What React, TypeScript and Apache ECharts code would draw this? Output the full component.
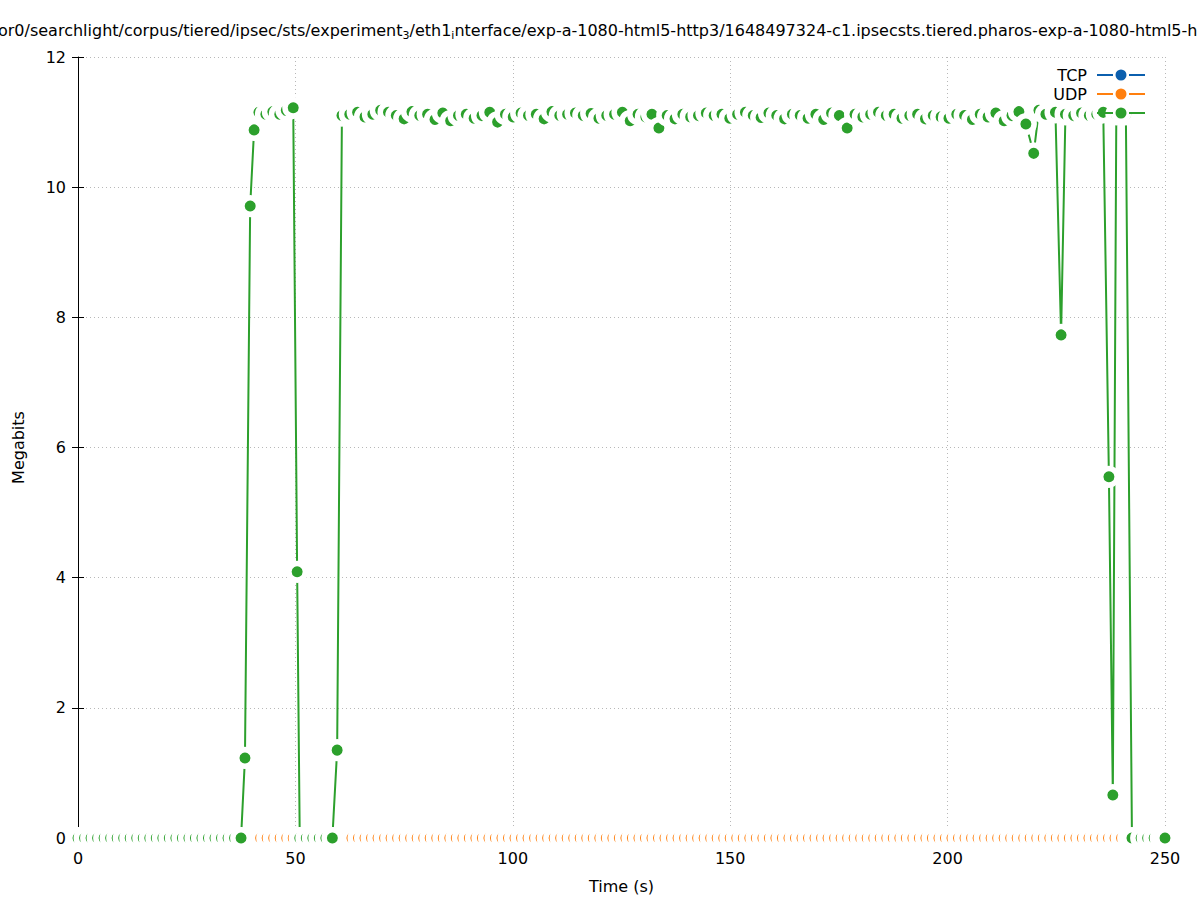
import React, { useEffect, useRef } from 'react';
import * as echarts from 'echarts';

const FONT = '"DejaVu Sans", sans-serif';
const GREEN = '#2ca02c';
const ORANGE = '#ff7f0e';
const BLUE = '#0b5fae';

const xTicks = [0, 50, 100, 150, 200, 250];
const yTicks = [0, 2, 4, 6, 8, 10, 12];

// Third (untitled) series: time (s) and Megabits
const greenTimes = [
  0, 1.5, 3, 4.5, 6, 7.5, 9, 10.5, 12, 13.5, 15, 16.5, 18, 19.5, 21, 22.5,
  24, 25.5, 27, 28.5, 30, 31.5, 33, 34.5, 36, 37.5,
  38.4, 39.6, 40.5, 41.6, 43.2, 44.8, 46.4, 47.9, 49.5, 50.4,
  51, 52.5, 54, 55.5, 57, 58.5, 59.6, 60.7, 62.5,
  64.3, 66.0, 67.8, 69.6, 71.4, 73.2, 75.0, 76.8, 78.6, 80.4,
  82.1, 83.9, 85.7, 87.5, 89.3, 91.1, 92.9, 94.7, 96.5, 98.3,
  100.1, 101.9, 103.6, 105.4, 107.2, 109.0, 110.8, 112.6, 114.4, 116.2,
  118.0, 119.8, 121.6, 123.4, 125.2, 127.0, 128.8, 130.6, 132.0, 133.6,
  135.5, 137.3, 139.1, 140.9, 142.7, 144.5, 146.3, 148.1, 149.9, 151.7,
  153.5, 155.3, 157.1, 158.9, 160.7, 162.5, 164.3, 166.1, 167.9, 169.7,
  171.5, 173.3, 175.1, 176.9, 178.7, 180.5, 182.3, 184.1, 185.9, 187.7,
  189.5, 191.3, 193.1, 194.9, 196.7, 198.5, 200.3, 202.1, 203.9, 205.7,
  207.5, 209.3, 211.1, 213.0, 214.8, 216.4, 218.0, 219.8, 221.0, 222.6,
  224.8, 226.1, 227.1, 229.0, 230.8, 232.6, 234.3, 235.8, 237.1, 238.0,
  238.8, 241.0, 242.4, 244.5, 246, 247.5, 249, 250,
];
const greenValues = [
  0, 0, 0, 0, 0, 0, 0, 0, 0, 0, 0, 0, 0, 0, 0, 0,
  0, 0, 0, 0, 0, 0, 0, 0, 0, 0,
  1.23, 9.71, 10.88, 11.15, 11.12, 11.16, 11.12, 11.18, 11.22, 4.09,
  0, 0, 0, 0, 0, 0, 1.35, 11.10, 11.12,
  11.15, 11.08, 11.12, 11.18, 11.15, 11.10, 11.05, 11.16, 11.10, 11.12,
  11.04, 11.14, 11.02, 11.10, 11.12, 11.06, 11.10, 11.15, 11.00, 11.12,
  11.08, 11.14, 11.10, 11.12, 11.05, 11.16, 11.10, 11.12, 11.14, 11.10,
  11.13, 11.06, 11.10, 11.12, 11.15, 11.02, 11.12, 11.08, 11.12, 10.91,
  11.10, 11.05, 11.12, 11.08, 11.10, 11.14, 11.10, 11.12, 11.06, 11.12,
  11.15, 11.10, 11.07, 11.14, 11.10, 11.05, 11.12, 11.10, 11.06, 11.12,
  11.04, 11.14, 11.10, 10.91, 11.12, 11.08, 11.12, 11.15, 11.10, 11.12,
  11.06, 11.10, 11.12, 11.05, 11.10, 11.08, 11.06, 11.12, 11.10, 11.04,
  11.12, 11.08, 11.14, 11.02, 11.10, 11.16, 10.97, 10.52, 11.18, 11.12,
  11.15, 7.73, 11.12, 11.10, 11.14, 11.10, 11.12, 11.15, 5.55, 0.66,
  11.12, 11.12, 0, 0, 0, 0, 0, 0,
];

// UDP: time (s) and Megabits
const udpTimes = [
  0, 1.5, 3, 4.5, 6, 7.5, 9, 10.5, 12, 13.5, 15, 16.5, 18, 19.5, 21, 22.5, 24, 25.5, 27, 28.5,
  30, 31.5, 33, 34.5, 36, 37.5, 39, 40.5, 42, 43.5, 45, 46.5, 48, 49.5, 51, 52.5, 54, 55.5, 57, 58.5,
  60, 61.5, 63, 64.5, 66, 67.5, 69, 70.5, 72, 73.5, 75, 76.5, 78, 79.5, 81, 82.5, 84, 85.5, 87, 88.5,
  90, 91.5, 93, 94.5, 96, 97.5, 99, 100.5, 102, 103.5, 105, 106.5, 108, 109.5, 111, 112.5, 114, 115.5, 117, 118.5,
  120, 121.5, 123, 124.5, 126, 127.5, 129, 130.5, 132, 133.5, 135, 136.5, 138, 139.5, 141, 142.5, 144, 145.5, 147, 148.5,
  150, 151.5, 153, 154.5, 156, 157.5, 159, 160.5, 162, 163.5, 165, 166.5, 168, 169.5, 171, 172.5, 174, 175.5, 177, 178.5,
  180, 181.5, 183, 184.5, 186, 187.5, 189, 190.5, 192, 193.5, 195, 196.5, 198, 199.5, 201, 202.5, 204, 205.5, 207, 208.5,
  210, 211.5, 213, 214.5, 216, 217.5, 219, 220.5, 222, 223.5, 225, 226.5, 228, 229.5, 231, 232.5, 234, 235.5, 237, 238.5,
  240, 241.5, 243, 244.5, 246, 247.5, 249,
  250,
];
const udpValues = [
  0, 0, 0, 0, 0, 0, 0, 0, 0, 0, 0, 0, 0, 0, 0, 0, 0, 0, 0, 0,
  0, 0, 0, 0, 0, 0, 0, 0, 0, 0, 0, 0, 0, 0, 0, 0, 0, 0, 0, 0,
  0, 0, 0, 0, 0, 0, 0, 0, 0, 0, 0, 0, 0, 0, 0, 0, 0, 0, 0, 0,
  0, 0, 0, 0, 0, 0, 0, 0, 0, 0, 0, 0, 0, 0, 0, 0, 0, 0, 0, 0,
  0, 0, 0, 0, 0, 0, 0, 0, 0, 0, 0, 0, 0, 0, 0, 0, 0, 0, 0, 0,
  0, 0, 0, 0, 0, 0, 0, 0, 0, 0, 0, 0, 0, 0, 0, 0, 0, 0, 0, 0,
  0, 0, 0, 0, 0, 0, 0, 0, 0, 0, 0, 0, 0, 0, 0, 0, 0, 0, 0, 0,
  0, 0, 0, 0, 0, 0, 0, 0, 0, 0, 0, 0, 0, 0, 0, 0, 0, 0, 0, 0,
  0, 0, 0, 0, 0, 0, 0,
  0,
];

// TCP: no visible samples
const tcpTimes: number[] = [];
const tcpValues: number[] = [];

const TITLE =
  'or0/searchlight/corpus/tiered/ipsec/sts/experiment{s|3}/eth1{s|i}nterface/exp-a-1080-html5-http3/1648497324-c1.ipsecsts.tiered.pharos-exp-a-1080-html5-http3';

const LEGEND_ICON =
  'path://M0 6h16v2H0z M32 6h16v2H32z M18.5 7a5.5 5.5 0 1 0 11 0a5.5 5.5 0 1 0 -11 0z';

const pairs = (ts: number[], vs: number[]) => ts.map((t, i) => [t, vs[i]]);

function lineSeries(name: string, color: string, data: number[][]) {
  return {
    name,
    type: 'line',
    z: 3,
    data,
    xAxisIndex: 0,
    yAxisIndex: 0,
    symbol: 'circle',
    symbolSize: 16.5,
    showSymbol: true,
    showAllSymbol: true,
    clip: false,
    silent: true,
    lineStyle: { color, width: 2 },
    itemStyle: { color, borderColor: '#ffffff', borderWidth: 5.5 },
    emphasis: { disabled: true },
  };
}

const LEGEND_RIGHT = 52;
const legendTops = [67, 86, 105];

function legendItem(name: string, top: number) {
  return {
    data: [name],
    orient: 'vertical',
    right: LEGEND_RIGHT,
    top,
    padding: 0,
    align: 'right',
    itemWidth: 48,
    itemHeight: 14,
    icon: LEGEND_ICON,
    selectedMode: false,
    z: 6,
    itemStyle: { borderWidth: 0 },
    textStyle: { fontSize: 16, color: '#000', fontFamily: FONT, padding: [0, 5, 0, 0] },
  };
}

export default function App() {
  const ref = useRef<HTMLDivElement>(null);
  useEffect(() => {
    const chart = echarts.init(ref.current!, null, { renderer: 'svg' });
    const gridLine = { show: true, lineStyle: { color: '#b8b8b8', type: [1, 3], width: 1 } };
    const tick = { show: true, inside: true, length: 6, lineStyle: { color: '#000', width: 1 } };
    const label = { color: '#000', fontSize: 16, fontFamily: FONT, margin: 12 };
    const W = 1197;
    chart.setOption({
      animation: false,
      backgroundColor: '#ffffff',
      textStyle: { fontFamily: FONT },
      title: {
        text: TITLE,
        left: -2,
        top: 19,
        padding: 0,
        textStyle: {
          fontSize: 16,
          fontWeight: 'normal',
          color: '#000',
          fontFamily: FONT,
          lineHeight: 22,
          rich: {
            s: { fontSize: 11, lineHeight: 11, verticalAlign: 'bottom', color: '#000', fontFamily: FONT },
          },
        },
      },
      grid: { left: 78, right: 32, top: 57, bottom: 62 },
      legend: [
        legendItem('TCP', legendTops[0]),
        legendItem('UDP', legendTops[1]),
        legendItem(' ', legendTops[2]),
      ],
      // white backdrop behind each key sample point (as in the original key)
      graphic: {
        elements: legendTops.map((t) => ({
          type: 'circle',
          z: 5,
          shape: { cx: W - LEGEND_RIGHT - 24, cy: t + 7, r: 11 },
          style: { fill: '#ffffff' },
          silent: true,
        })),
      },
      xAxis: [
        {
          type: 'value',
          min: xTicks[0],
          max: xTicks[xTicks.length - 1],
          interval: xTicks[1] - xTicks[0],
          position: 'bottom',
          axisLine: { show: true, onZero: false, lineStyle: { color: '#000', width: 1 } },
          axisTick: tick,
          axisLabel: label,
          splitLine: gridLine,
          name: 'Time (s)',
          nameLocation: 'middle',
          nameGap: 40,
          nameTextStyle: { color: '#000', fontSize: 16, fontFamily: FONT },
        },
        {
          type: 'value',
          min: xTicks[0],
          max: xTicks[xTicks.length - 1],
          interval: xTicks[1] - xTicks[0],
          position: 'top',
          axisLine: { show: false },
          axisTick: tick,
          axisLabel: { show: false },
          splitLine: { show: false },
        },
      ],
      yAxis: [
        {
          type: 'value',
          min: yTicks[0],
          max: yTicks[yTicks.length - 1],
          interval: yTicks[1] - yTicks[0],
          position: 'left',
          axisLine: { show: true, onZero: false, lineStyle: { color: '#000', width: 1 } },
          axisTick: tick,
          axisLabel: label,
          splitLine: gridLine,
          name: 'Megabits',
          nameLocation: 'middle',
          nameGap: 52,
          nameTextStyle: { color: '#000', fontSize: 16, fontFamily: FONT },
        },
        {
          type: 'value',
          min: yTicks[0],
          max: yTicks[yTicks.length - 1],
          interval: yTicks[1] - yTicks[0],
          position: 'right',
          axisLine: { show: false },
          axisTick: tick,
          axisLabel: { show: false },
          splitLine: { show: false },
        },
      ],
      series: [
        lineSeries('TCP', BLUE, pairs(tcpTimes, tcpValues)),
        lineSeries('UDP', ORANGE, pairs(udpTimes, udpValues)),
        lineSeries(' ', GREEN, pairs(greenTimes, greenValues)),
      ],
    });
    return () => chart.dispose();
  }, []);
  return (
    <div
      ref={ref}
      style={{ position: 'absolute', left: 0, top: 0, width: 1197, height: 900, background: '#fff' }}
    />
  );
}
